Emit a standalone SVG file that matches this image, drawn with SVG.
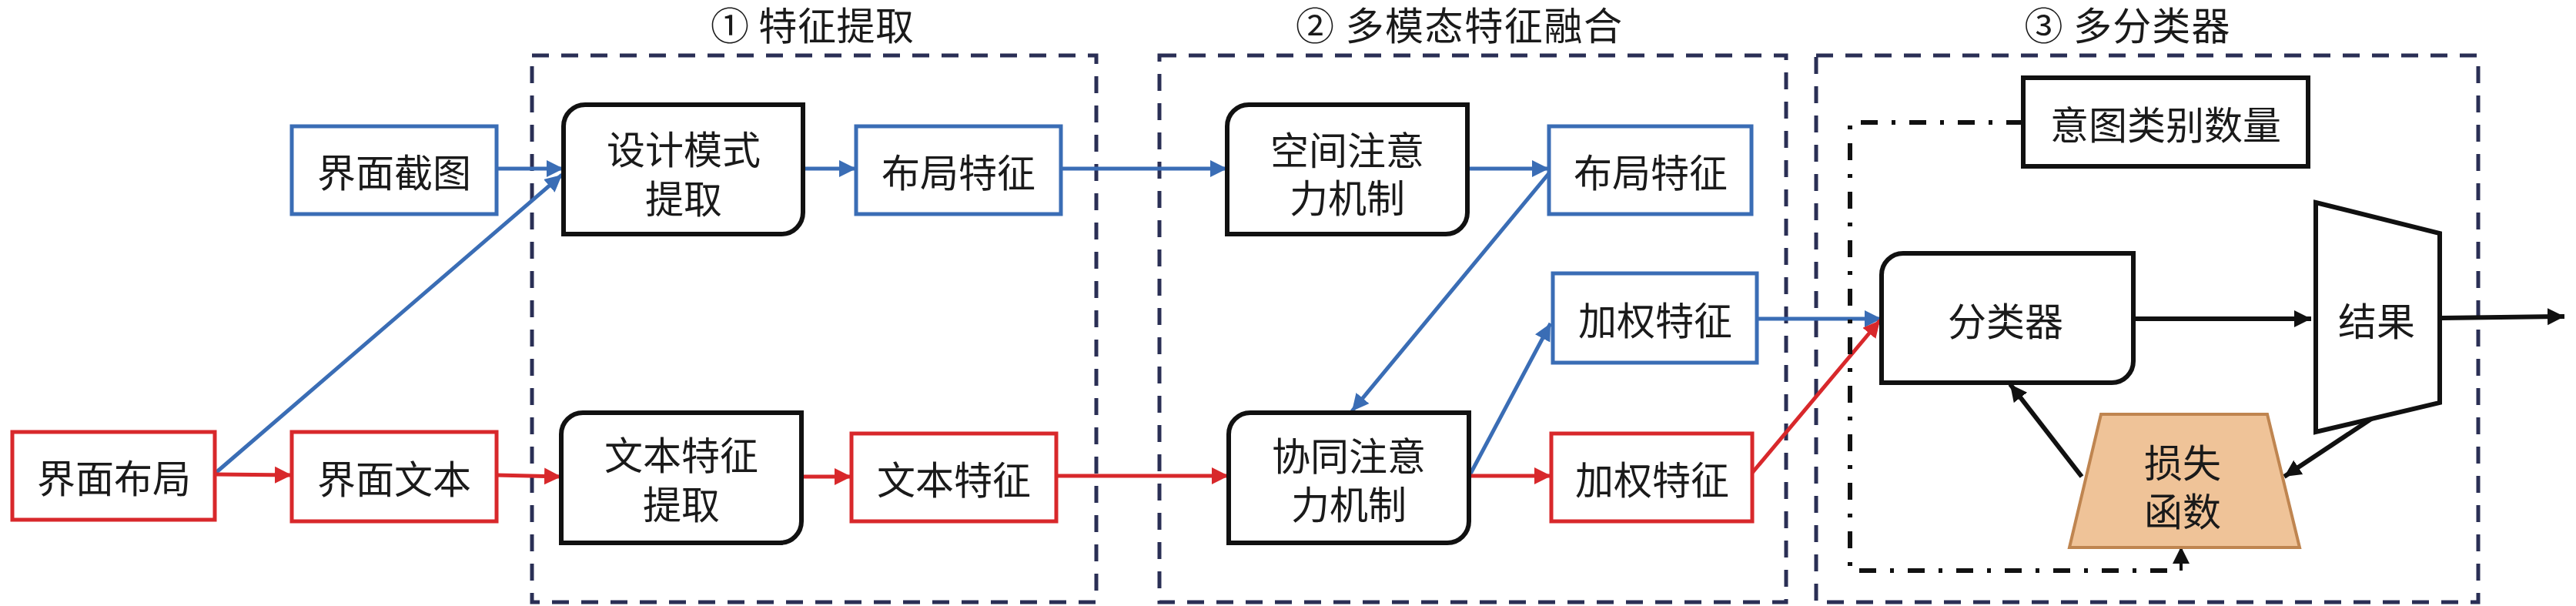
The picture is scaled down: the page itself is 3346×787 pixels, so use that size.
<svg xmlns="http://www.w3.org/2000/svg" width="3346" height="787" viewBox="0 0 3346 787">
<style>
.t{font-family:"Noto Sans CJK SC","Noto Sans CJK JP",sans-serif;font-size:50px;fill:#1a1a1a;text-anchor:middle;dominant-baseline:central}
.ti{font-size:50px}
.bb{fill:#fff;stroke:#3A6DB5;stroke-width:5}
.rb{fill:#fff;stroke:#D8282B;stroke-width:5}
.kb{fill:#fff;stroke:#111;stroke-width:6}
.grp{fill:none;stroke:#2A2F55;stroke-width:5;stroke-dasharray:22 16}
.bl{fill:none;stroke:#3A6DB5;stroke-width:5;marker-end:url(#ab)}
.rl{fill:none;stroke:#D8282B;stroke-width:5;marker-end:url(#ar)}
.kl{fill:none;stroke:#111;stroke-width:6;marker-end:url(#ak)}
.dd{fill:none;stroke:#111;stroke-width:6;stroke-dasharray:22 18 5 18}
</style>
<defs>
<marker id="ab" markerUnits="userSpaceOnUse" markerWidth="24" markerHeight="24" refX="22" refY="11" orient="auto"><path d="M0,0 L22,11 L0,22 Z" fill="#3A6DB5"/></marker>
<marker id="ar" markerUnits="userSpaceOnUse" markerWidth="24" markerHeight="24" refX="22" refY="11" orient="auto"><path d="M0,0 L22,11 L0,22 Z" fill="#D8282B"/></marker>
<marker id="ak" markerUnits="userSpaceOnUse" markerWidth="24" markerHeight="24" refX="22" refY="11" orient="auto"><path d="M0,0 L22,11 L0,22 Z" fill="#111"/></marker>
</defs>
<rect width="3346" height="787" fill="#fff"/>

<g id="groups">
<rect class="grp" x="691" y="72" width="733" height="710"/>
<rect class="grp" x="1506" y="72" width="814" height="710"/>
<rect class="grp" x="2359" y="72" width="860" height="710"/>
<text class="t ti" x="1055" y="30" textLength="264" lengthAdjust="spacing">① 特征提取</text>
<text class="t ti" x="1895" y="30" textLength="424" lengthAdjust="spacing">② 多模态特征融合</text>
<text class="t ti" x="2763" y="30" textLength="267" lengthAdjust="spacing">③ 多分类器</text>
</g>

<g id="connectors">
<line class="bl" x1="645" y1="219" x2="732" y2="219"/>
<line class="bl" x1="279" y1="615" x2="730" y2="227"/>
<line class="bl" x1="1043" y1="219" x2="1112" y2="219"/>
<line class="bl" x1="1378" y1="219" x2="1594" y2="219"/>
<line class="bl" x1="1906" y1="219" x2="2012" y2="219"/>
<line class="bl" x1="2012" y1="225" x2="1756" y2="534"/>
<line class="bl" x1="1908" y1="619" x2="2014" y2="420"/>
<line class="bl" x1="2282" y1="414" x2="2444" y2="414"/>
<line class="rl" x1="279" y1="616" x2="379" y2="617"/>
<line class="rl" x1="645" y1="617" x2="729" y2="619"/>
<line class="rl" x1="1041" y1="619" x2="1106" y2="619"/>
<line class="rl" x1="1372" y1="618" x2="1596" y2="618"/>
<line class="rl" x1="1908" y1="618" x2="2015" y2="618"/>
<line class="rl" x1="2276" y1="614" x2="2442" y2="416"/>
<line class="kl" x1="2771" y1="414" x2="3002" y2="414"/>
<line class="kl" x1="3172" y1="413" x2="3331" y2="411"/>
<line class="kl" x1="3083" y1="542" x2="2967" y2="619"/>
<line class="kl" x1="2704" y1="619" x2="2611" y2="499"/>
<path class="dd" d="M2628,159 H2403 V741 H2828"/>
<line class="kl" x1="2833" y1="741" x2="2833" y2="710" style="stroke-width:4"/>
</g>

<g id="n_jmbj"><rect class="rb" x="16" y="561" width="263" height="114"/><text class="t" x="148" y="618">界面布局</text></g>
<g id="n_jmjt"><rect class="bb" x="379" y="164" width="266" height="114"/><text class="t" x="512" y="221">界面截图</text></g>
<g id="n_jmwb"><rect class="rb" x="379" y="561" width="266" height="116"/><text class="t" x="512" y="619">界面文本</text></g>
<g id="n_sjms"><path class="kb" d="M732,304 V164 A28,28 0 0 1 760,136 H1043 V276 A28,28 0 0 1 1015,304 Z"/><text class="t" x="888" y="191">设计模式<tspan x="888" dy="64">提取</tspan></text></g>
<g id="n_wbtq"><path class="kb" d="M729,705 V564 A28,28 0 0 1 757,536 H1041 V677 A28,28 0 0 1 1013,705 Z"/><text class="t" x="885" y="588">文本特征<tspan x="885" dy="64">提取</tspan></text></g>
<g id="n_bjtz1"><rect class="bb" x="1112" y="164" width="266" height="114"/><text class="t" x="1245" y="221">布局特征</text></g>
<g id="n_wbtz"><rect class="rb" x="1106" y="563" width="266" height="114"/><text class="t" x="1239" y="620">文本特征</text></g>
<g id="n_kj"><path class="kb" d="M1594,304 V164 A28,28 0 0 1 1622,136 H1906 V276 A28,28 0 0 1 1878,304 Z"/><text class="t" x="1750" y="192">空间注意<tspan x="1750" dy="62">力机制</tspan></text></g>
<g id="n_xt"><path class="kb" d="M1596,705 V564 A28,28 0 0 1 1624,536 H1908 V677 A28,28 0 0 1 1880,705 Z"/><text class="t" x="1752" y="589">协同注意<tspan x="1752" dy="63">力机制</tspan></text></g>
<g id="n_bjtz2"><rect class="bb" x="2012" y="164" width="263" height="114"/><text class="t" x="2144" y="221">布局特征</text></g>
<g id="n_jq1"><rect class="bb" x="2017" y="355" width="265" height="116"/><text class="t" x="2150" y="413">加权特征</text></g>
<g id="n_jq2"><rect class="rb" x="2015" y="563" width="261" height="114"/><text class="t" x="2146" y="620">加权特征</text></g>
<g id="n_yt"><rect class="kb" x="2628" y="101" width="370" height="115"/><text class="t" x="2813" y="159">意图类别数量</text></g>
<g id="n_flq"><path class="kb" d="M2444,497 V357 A28,28 0 0 1 2472,329 H2771 V469 A28,28 0 0 1 2743,497 Z"/><text class="t" x="2605" y="414">分类器</text></g>
<g id="n_jg"><polygon class="kb" points="3008,263 3169,303 3169,523 3008,561"/><text class="t" x="3087" y="414">结果</text></g>
<g id="n_ss"><polygon points="2729,538 2945,538 2987,711 2688,711" fill="#EFC398" stroke="#BF8550" stroke-width="4"/><text class="t" x="2835" y="598">损失<tspan x="2835" dy="63">函数</tspan></text></g>
</svg>
